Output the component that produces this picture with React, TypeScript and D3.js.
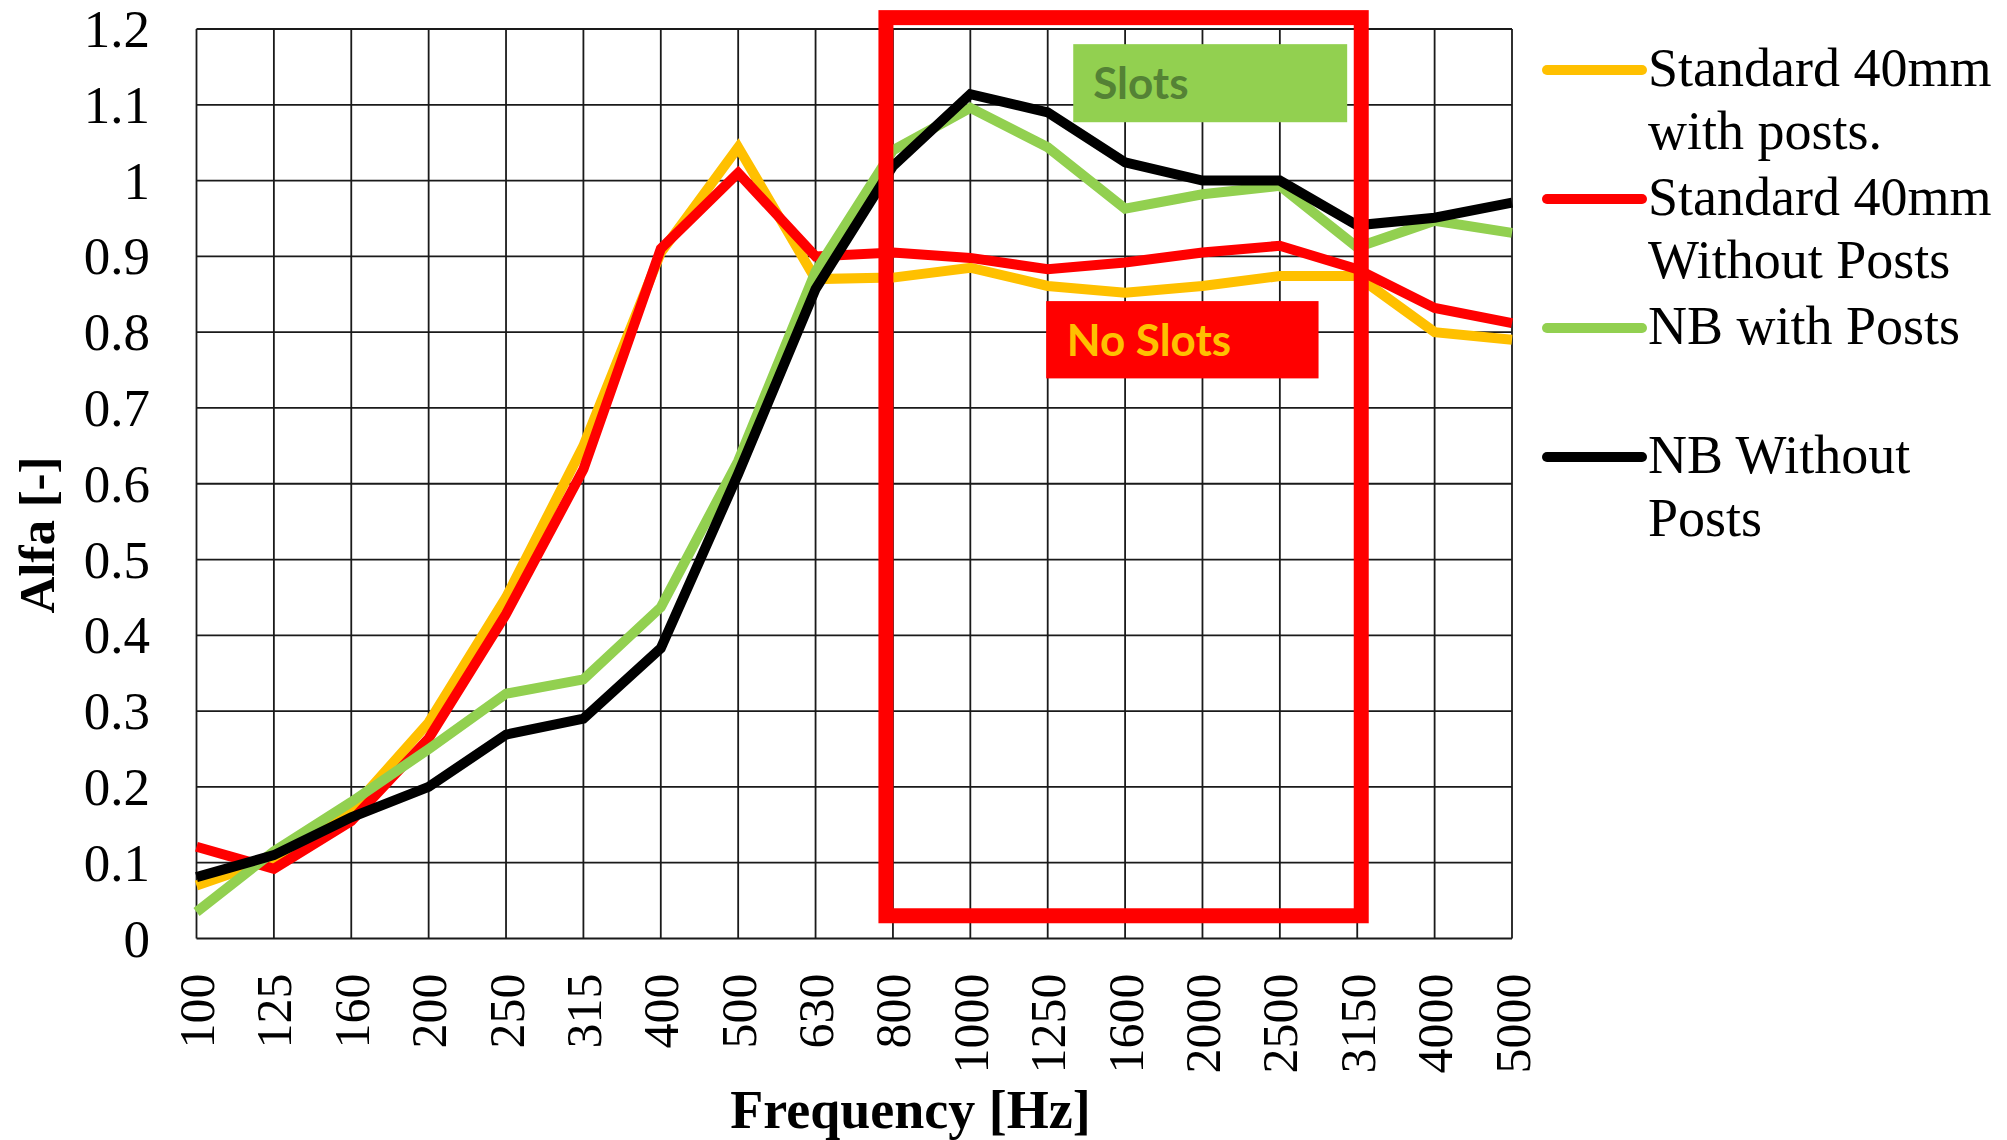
import React from 'react';
import * as d3 from 'd3';

// third-octave band centre frequencies
const freqs = ['100', '125', '160', '200', '250', '315', '400', '500', '630', '800', '1000', '1250', '1600', '2000', '2500', '3150', '4000', '5000'];

const std40WithPosts = [0.07, 0.105, 0.17, 0.285, 0.45, 0.65, 0.905, 1.044, 0.87, 0.872, 0.885, 0.861, 0.852, 0.861, 0.874, 0.874, 0.80, 0.79];
const std40WithoutPosts = [0.121, 0.092, 0.155, 0.264, 0.428, 0.619, 0.91, 1.01, 0.90, 0.905, 0.898, 0.883, 0.892, 0.905, 0.914, 0.883, 0.832, 0.812];
const nbWithPosts = [0.035, 0.115, 0.18, 0.25, 0.323, 0.342, 0.437, 0.63, 0.88, 1.04, 1.096, 1.044, 0.963, 0.982, 0.993, 0.912, 0.947, 0.931];
const nbWithoutPosts = [0.081, 0.11, 0.16, 0.20, 0.269, 0.29, 0.383, 0.613, 0.857, 1.019, 1.114, 1.09, 1.024, 1.0, 1.0, 0.941, 0.951, 0.971];

const seriesNames = [['Standard 40mm', 'with posts.'], ['Standard 40mm', 'Without Posts'], ['NB with Posts'], ['NB Without', 'Posts']];
const seriesColors = ['#FFC000', '#FF0000', '#92D050', '#000000'];
const seriesValues = [std40WithPosts, std40WithoutPosts, nbWithPosts, nbWithoutPosts];

const yTicks = d3.range(0, 13).map(i => i / 10);

const serif = '"Liberation Serif", "Times New Roman", serif';
const sans = 'Lato, "Open Sans", sans-serif';

const App = () => {
    const width = 2007;
    const height = 1140;
    const left = 196.5, right = 1512, top = 29, bottom = 938.5;

    const x = d3.scalePoint<string>().domain(freqs).range([left, right]);
    // fractional band index, used to place the annotations
    const xi = d3.scaleLinear().domain([0, freqs.length - 1]).range([left, right]);
    const y = d3.scaleLinear().domain([0, 1.2]).range([bottom, top]);

    const line = d3.line<number>()
        .x((d, i) => x(freqs[i]) as number)
        .y(d => y(d));

    // red frame around 800 - 3150 Hz
    const boxL = (x('800') as number) - 7;
    const boxR = (x('3150') as number) + 4;
    const boxT = y(1.215);
    const boxB = y(0.03);

    return (
        <svg width={width} height={height} style={{ position: 'absolute', left: 0, top: 0, background: '#fff' }}>
            <rect x={0} y={0} width={width} height={height} fill="#fff" />

            {/* grid */}
            <g stroke="#1a1a1a" strokeWidth={1.8}>
                {freqs.map(f => (
                    <line key={f} x1={x(f)} x2={x(f)} y1={top} y2={bottom} />
                ))}
                {yTicks.map(t => (
                    <line key={t} x1={left} x2={right} y1={y(t)} y2={y(t)} />
                ))}
            </g>

            {/* y tick labels */}
            <g fontFamily={serif} fontSize={53} fill="#000" textAnchor="end">
                {yTicks.map(t => (
                    <text key={t} x={150} y={y(t) + 18}>{String(+t.toFixed(1))}</text>
                ))}
            </g>

            {/* x tick labels */}
            <g fontFamily={serif} fontSize={50} fill="#000" textAnchor="end">
                {freqs.map(f => (
                    <text key={f} transform={`translate(${(x(f) as number) + 17.5},${973.5}) rotate(-90)`}>{f}</text>
                ))}
            </g>

            {/* series */}
            {seriesValues.map((vals, i) => (
                <path key={i} d={line(vals) as string} fill="none" stroke={seriesColors[i]} strokeWidth={10} />
            ))}

            {/* annotations */}
            <rect x={boxL} y={boxT} width={boxR - boxL} height={boxB - boxT} fill="none" stroke="#FF0000" strokeWidth={15} />

            <rect x={xi(11.33)} y={y(1.18)} width={xi(14.87) - xi(11.33)} height={y(1.077) - y(1.18)} fill="#92D050" />
            <text x={xi(11.33) + 20} y={y(1.18) + 55} fontFamily={sans} fontWeight="bold" fontSize={44} fill="#548235">Slots</text>

            <rect x={xi(10.98)} y={y(0.841)} width={xi(14.5) - xi(10.98)} height={y(0.739) - y(0.841)} fill="#FF0000" />
            <text x={xi(10.98) + 20.5} y={y(0.841) + 55} fontFamily={sans} fontWeight="bold" fontSize={44} fill="#FFC000">No Slots</text>

            {/* legend */}
            {seriesNames.map((lines, i) => {
                const ly = 70 + i * 129;
                return (
                    <g key={i}>
                        <line x1={1547} x2={1642} y1={ly} y2={ly} stroke={seriesColors[i]} strokeWidth={10} strokeLinecap="round" />
                        <text fontFamily={serif} fontSize={54} fill="#000">
                            {lines.map((t, j) => (
                                <tspan key={j} x={1648} y={ly + 16 + j * 62.5}>{t}</tspan>
                            ))}
                        </text>
                    </g>
                );
            })}

            {/* axis titles */}
            <text x={910.5} y={1128} textAnchor="middle" fontFamily={serif} fontWeight="bold" fontSize={54} fill="#000">Frequency [Hz]</text>
            <text transform={`translate(53.5,535) rotate(-90)`} textAnchor="middle" fontFamily={serif} fontWeight="bold" fontSize={51} fill="#000">Alfa [-]</text>
        </svg>
    );
};

export default App;
